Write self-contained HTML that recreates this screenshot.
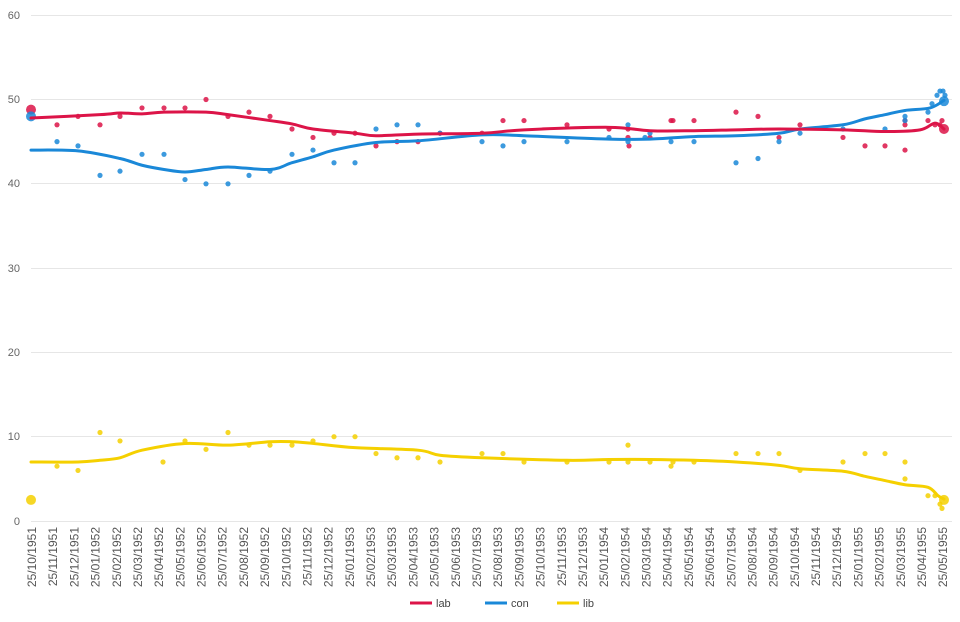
<!DOCTYPE html>
<html><head><meta charset="utf-8"><style>
html,body{margin:0;padding:0;background:#fff;}
svg{display:block;font-family:"Liberation Sans",sans-serif;}
</style></head><body>
<svg id="s" width="960" height="622" viewBox="0 0 960 622" xmlns="http://www.w3.org/2000/svg">
<rect x="0" y="0" width="960" height="622" fill="#fff"/>
<g stroke="#e6e6e6" stroke-width="1">
<line x1="31" x2="952" y1="15.5" y2="15.5"/>
<line x1="31" x2="952" y1="99.5" y2="99.5"/>
<line x1="31" x2="952" y1="183.5" y2="183.5"/>
<line x1="31" x2="952" y1="268.5" y2="268.5"/>
<line x1="31" x2="952" y1="352.5" y2="352.5"/>
<line x1="31" x2="952" y1="436.5" y2="436.5"/>
<line x1="31" x2="952" y1="521.5" y2="521.5"/>
</g>
<g font-size="11" fill="#666" text-anchor="end">
<text x="20" y="19">60</text><text x="20" y="103">50</text><text x="20" y="187">40</text>
<text x="20" y="272">30</text><text x="20" y="356">20</text><text x="20" y="440">10</text><text x="20" y="525">0</text>
</g>
<g id="g" fill="none" stroke-linejoin="round" stroke-linecap="round"></g>
<g id="xl" font-size="12" fill="#555" text-anchor="end">
<text transform="translate(36,527) rotate(-90)">25/10/1951</text>
<text transform="translate(57.2,527) rotate(-90)">25/11/1951</text>
<text transform="translate(78.4,527) rotate(-90)">25/12/1951</text>
<text transform="translate(99.6,527) rotate(-90)">25/01/1952</text>
<text transform="translate(120.8,527) rotate(-90)">25/02/1952</text>
<text transform="translate(141.9,527) rotate(-90)">25/03/1952</text>
<text transform="translate(163.1,527) rotate(-90)">25/04/1952</text>
<text transform="translate(184.3,527) rotate(-90)">25/05/1952</text>
<text transform="translate(205.5,527) rotate(-90)">25/06/1952</text>
<text transform="translate(226.7,527) rotate(-90)">25/07/1952</text>
<text transform="translate(247.9,527) rotate(-90)">25/08/1952</text>
<text transform="translate(269.1,527) rotate(-90)">25/09/1952</text>
<text transform="translate(290.3,527) rotate(-90)">25/10/1952</text>
<text transform="translate(311.5,527) rotate(-90)">25/11/1952</text>
<text transform="translate(332.7,527) rotate(-90)">25/12/1952</text>
<text transform="translate(353.8,527) rotate(-90)">25/01/1953</text>
<text transform="translate(375,527) rotate(-90)">25/02/1953</text>
<text transform="translate(396.2,527) rotate(-90)">25/03/1953</text>
<text transform="translate(417.4,527) rotate(-90)">25/04/1953</text>
<text transform="translate(438.6,527) rotate(-90)">25/05/1953</text>
<text transform="translate(459.8,527) rotate(-90)">25/06/1953</text>
<text transform="translate(481,527) rotate(-90)">25/07/1953</text>
<text transform="translate(502.2,527) rotate(-90)">25/08/1953</text>
<text transform="translate(523.4,527) rotate(-90)">25/09/1953</text>
<text transform="translate(544.6,527) rotate(-90)">25/10/1953</text>
<text transform="translate(565.8,527) rotate(-90)">25/11/1953</text>
<text transform="translate(586.9,527) rotate(-90)">25/12/1953</text>
<text transform="translate(608.1,527) rotate(-90)">25/01/1954</text>
<text transform="translate(629.3,527) rotate(-90)">25/02/1954</text>
<text transform="translate(650.5,527) rotate(-90)">25/03/1954</text>
<text transform="translate(671.7,527) rotate(-90)">25/04/1954</text>
<text transform="translate(692.9,527) rotate(-90)">25/05/1954</text>
<text transform="translate(714.1,527) rotate(-90)">25/06/1954</text>
<text transform="translate(735.3,527) rotate(-90)">25/07/1954</text>
<text transform="translate(756.5,527) rotate(-90)">25/08/1954</text>
<text transform="translate(777.7,527) rotate(-90)">25/09/1954</text>
<text transform="translate(798.8,527) rotate(-90)">25/10/1954</text>
<text transform="translate(820,527) rotate(-90)">25/11/1954</text>
<text transform="translate(841.2,527) rotate(-90)">25/12/1954</text>
<text transform="translate(862.4,527) rotate(-90)">25/01/1955</text>
<text transform="translate(883.6,527) rotate(-90)">25/02/1955</text>
<text transform="translate(904.8,527) rotate(-90)">25/03/1955</text>
<text transform="translate(926,527) rotate(-90)">25/04/1955</text>
<text transform="translate(947.2,527) rotate(-90)">25/05/1955</text>
</g>
<g font-size="11" fill="#444">
<line x1="410" x2="432" y1="603" y2="603" stroke="#dc1448" stroke-width="3"/><text x="436" y="607">lab</text>
<line x1="485" x2="507" y1="603" y2="603" stroke="#1a88d8" stroke-width="3"/><text x="511" y="607">con</text>
<line x1="557" x2="579" y1="603" y2="603" stroke="#f5d000" stroke-width="3"/><text x="583" y="607">lib</text>
</g>
</svg>
<script>
var Y=function(v){return 521-8.43*v;};
var g=document.getElementById('g'),NS='http://www.w3.org/2000/svg';
function path(pts,col){var p=pts.map(function(a){return [a[0],Y(a[1])];});
var d='M'+p[0][0]+','+p[0][1];
for(var i=0;i<p.length-1;i++){var p0=p[i-1]||p[i],p1=p[i],p2=p[i+1],p3=p[i+2]||p2;
d+=' C'+(p1[0]+(p2[0]-p0[0])/6)+','+(p1[1]+(p2[1]-p0[1])/6)+' '+(p2[0]-(p3[0]-p1[0])/6)+','+(p2[1]-(p3[1]-p1[1])/6)+' '+p2[0]+','+p2[1];}
var e=document.createElementNS(NS,'path');e.setAttribute('d',d);e.setAttribute('stroke',col);e.setAttribute('stroke-width','3');g.appendChild(e);}
function dots(arr,col,big){arr.forEach(function(a){var c=document.createElementNS(NS,'circle');c.setAttribute('cx',a[0]);c.setAttribute('cy',Y(a[1]));c.setAttribute('r','2.6');c.setAttribute('fill',col);c.setAttribute('fill-opacity','0.85');g.appendChild(c);});
big.forEach(function(a){var c=document.createElementNS(NS,'circle');c.setAttribute('cx',a[0]);c.setAttribute('cy',Y(a[1]));c.setAttribute('r','5');c.setAttribute('fill',col);c.setAttribute('fill-opacity','0.85');g.appendChild(c);});}
var labL=[[31,47.8],[100,48.2],[120,48.4],[142,48.3],[164,48.5],[206,48.5],[228,48.2],[270,47.5],[292,47.1],[313,46.5],[355,46],[376,45.7],[418,45.9],[482,46],[524,46.4],[609,46.7],[650,46.3],[694,46.3],[736,46.4],[779,46.5],[843,46.4],[885,46.2],[920,46.4],[935,47.2],[944,46.5]];
var conL=[[31,44],[78,43.9],[120,43],[142,42.2],[164,41.7],[185,41.4],[206,41.7],[228,42],[270,41.7],[292,42.5],[313,43.2],[334,44],[376,44.9],[418,45.1],[482,45.8],[524,45.7],[609,45.3],[650,45.3],[694,45.6],[736,45.7],[779,46],[800,46.5],[843,47],[865,47.7],[885,48.2],[905,48.7],[930,49],[944,49.9]];
var libL=[[31,7],[78,7],[100,7.2],[120,7.5],[142,8.4],[185,9.2],[228,9],[270,9.4],[292,9.4],[313,9.2],[355,8.7],[418,8.4],[440,7.8],[482,7.5],[567,7.2],[609,7.3],[650,7.3],[694,7.2],[736,7.0],[779,6.6],[800,6.2],[843,5.9],[865,5.3],[885,4.8],[905,4.3],[928,4.0],[938,3],[944,2.6]];
dots([[57,47],[78,48],[100,47],[120,48],[142,49],[164,49],[185,49],[206,50],[228,48],[249,48.5],[270,48],[292,46.5],[313,45.5],[334,46],[355,46],[376,44.5],[397,45],[418,45],[440,46],[482,46],[503,47.5],[524,47.5],[567,47],[609,46.5],[628,45.5],[629,44.5],[628,46.5],[650,45.5],[671,47.5],[673,47.5],[694,47.5],[736,48.5],[758,48],[779,45.5],[800,47],[843,45.5],[865,44.5],[885,44.5],[905,44],[905,47],[905,47.5],[928,47.5],[935,47],[940,47],[942,47.5]],'#dc1448',[[31,48.8],[944,46.5]]);
dots([[57,45],[78,44.5],[100,41],[120,41.5],[142,43.5],[164,43.5],[185,40.5],[206,40],[228,40],[249,41],[270,41.5],[292,43.5],[313,44],[334,42.5],[355,42.5],[376,46.5],[397,47],[418,47],[440,46],[482,45],[503,44.5],[524,45],[567,45],[609,45.5],[628,47],[628,45],[650,46],[645,45.5],[671,45],[694,45],[736,42.5],[758,43],[779,45],[800,46],[843,46.5],[885,46.5],[905,47.5],[905,48],[928,48.5],[932,49.5],[937,50.5],[940,51],[943,51],[945,50.5]],'#1a88d8',[[31,48],[944,49.8]]);
dots([[57,6.5],[78,6],[100,10.5],[120,9.5],[163,7],[185,9.5],[206,8.5],[228,10.5],[249,9],[270,9],[292,9],[313,9.5],[334,10],[355,10],[376,8],[397,7.5],[418,7.5],[440,7],[482,8],[503,8],[524,7],[567,7],[609,7],[628,9],[628,7],[650,7],[671,6.5],[673,7],[694,7],[736,8],[758,8],[779,8],[800,6],[843,7],[865,8],[885,8],[905,7],[905,5],[928,3],[935,3],[940,2],[942,1.5]],'#f5d000',[[31,2.5],[944,2.5]]);
path(libL,'#f5d000');path(conL,'#1a88d8');path(labL,'#dc1448');
</script>
</body></html>
